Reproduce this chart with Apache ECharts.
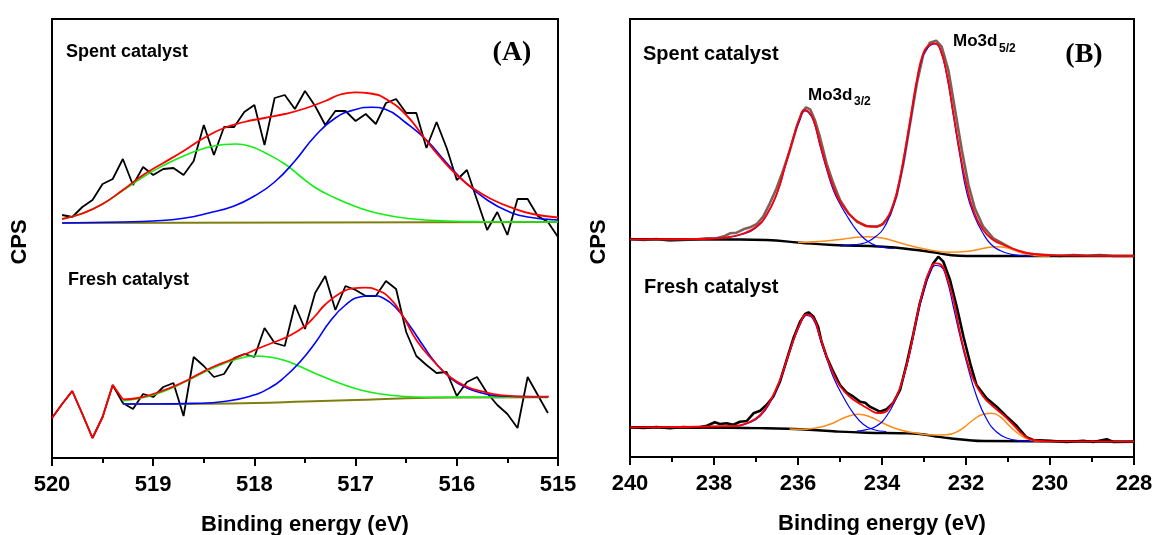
<!DOCTYPE html>
<html>
<head>
<meta charset="utf-8">
<title>XPS</title>
<script src="https://cdn.jsdelivr.net/npm/echarts@6/dist/echarts.min.js"></script>
<style>
html,body{margin:0;padding:0;background:#fff;}
#main{width:1154px;height:535px;}
</style>
</head>
<body>
<div id="main"></div>
<script>
// (A) 区域 能量
var eSpentA = [519.9,519.8,519.7,519.6,519.5,519.4,519.3,519.2,519.1,519.0,518.9,518.8,518.7,518.6,518.5,518.4,518.3,518.2,518.1,518.0,517.9,517.8,517.7,517.6,517.5,517.4,517.3,517.2,517.1,517.0,516.9,516.8,516.7,516.6,516.5,516.4,516.3,516.2,516.1,516.0,515.9,515.8,515.7,515.6,515.5,515.4,515.3,515.2,515.1,515.0];
var eFreshA = [520.0,519.9,519.8,519.7,519.6,519.5,519.4,519.3,519.2,519.1,519.0,518.9,518.8,518.7,518.6,518.5,518.4,518.3,518.2,518.1,518.0,517.9,517.8,517.7,517.6,517.5,517.4,517.3,517.2,517.1,517.0,516.9,516.8,516.7,516.6,516.5,516.4,516.3,516.2,516.1,516.0,515.9,515.8,515.7,515.6,515.5,515.4,515.3,515.2,515.1];
var spentA = [243,241,251,258,274,279,299,273,291,283,289,290,283,297,333,303,331,331,346,353,313,360,363,349,367,352,333,347,347,337,344,334,355,359,345,345,310,336,310,278,288,258,228,246,223,259,259,242,236,221];
var freshA = [40,54,67,44,20,41,73,55,49,64,61,71,75,42,101,92,81,84,100,104,101,130,115,112,153,129,165,182,148,172,168,162,162,177,169,126,102,93,85,86,62,76,81,65,53,44,30,81,63,45];

// (A) 拟合
var spentARed = [[519.9,239],[519.7,244.5],[519.5,254],[519.3,268],[519.1,283],[518.9,295],[518.7,307],[518.5,320],[518.3,330],[518.1,336],[517.9,340],[517.7,344],[517.5,349.5],[517.3,357],[517.15,363.5],[517.0,365.7],[516.85,364.5],[516.7,359],[516.5,343],[516.33,321.3],[516.17,301.3],[516.0,283],[515.84,269.7],[515.64,258],[515.44,249.7],[515.25,244],[515.0,240.5]];
var spentABlue = [[519.9,235],[519.3,236],[519.0,237],[518.7,239.7],[518.45,245],[518.2,252],[518.0,262],[517.8,276],[517.6,297],[517.4,322],[517.2,340],[517.0,348.5],[516.84,350.7],[516.7,348.5],[516.5,335],[516.3,318],[516.1,295],[515.9,274],[515.7,258],[515.5,247],[515.3,241],[515.0,238]];
var spentAGreen = [[519.9,239],[519.7,244.5],[519.5,254],[519.3,267.3],[519.1,281],[518.9,292.5],[518.7,302],[518.5,309.5],[518.3,313.5],[518.18,314],[518.05,312],[517.9,305.5],[517.7,294],[517.55,282],[517.4,270.5],[517.2,260],[517.0,251.5],[516.75,244],[516.45,239.2],[516.1,237],[515.75,236.3],[515.0,236]];
var spentABase = [[519.9,235],[515.0,236]];

var freshARed = [[519.3,58.7],[519.15,60],[519.0,64],[518.85,69.5],[518.7,76],[518.55,84],[518.4,91.5],[518.25,97.5],[518.1,103.5],[517.95,110],[517.8,116],[517.65,122.5],[517.5,132],[517.4,142],[517.3,153.5],[517.15,165],[517.03,169.7],[516.91,170.3],[516.79,168],[516.66,159.7],[516.53,141.3],[516.4,118],[516.24,98],[516.07,81.3],[515.9,71.3],[515.74,66.3],[515.58,63],[515.25,61.3],[515.09,61.3]];
var freshABlue = [[519.3,54],[519.0,54],[518.6,54.6],[518.3,56.5],[518.05,61.5],[517.85,70],[517.7,81],[517.55,96],[517.4,115],[517.25,137],[517.1,153],[516.96,161],[516.84,162.3],[516.72,159.5],[516.6,150],[516.47,133],[516.33,112],[516.2,94],[516.05,79],[515.9,70],[515.74,64.7],[515.58,62],[515.25,61.3],[515.1,61.3]];
var freshAGreen = [[519.3,57],[519.05,61.5],[518.9,66.5],[518.75,73],[518.6,80.5],[518.45,88],[518.3,94.5],[518.15,99.5],[518.0,102],[517.85,101],[517.7,97.5],[517.55,91.5],[517.35,82.5],[517.15,74.5],[516.95,68],[516.75,64],[516.55,61.8],[516.3,60.8],[515.1,60.7]];
var freshABase = [[519.3,54],[518.5,54.3],[518.0,55],[517.5,56.5],[517.0,58],[516.5,59.8],[516.0,60.5],[515.1,60.7]];

// (B) 区域
var spentB = [[240,218],[239.68,217],[239.37,218],[239.05,216.3],[238.73,217],[238.41,217.7],[238.17,218.7],[237.94,218.7],[237.74,221],[237.62,223.7],[237.46,224.3],[237.3,227.7],[237.14,229.7],[236.98,233],[236.83,240.3],[236.67,253.7],[236.51,268.7],[236.35,287],[236.19,307],[236.03,330.3],[235.91,343.7],[235.81,349.7],[235.71,347.7],[235.6,337],[235.48,320.3],[235.32,293.7],[235.16,273.7],[235.0,257],[234.8,243.7],[234.6,235.3],[234.37,231],[234.13,230.3],[233.97,233],[233.81,242],[233.65,262],[233.49,293.7],[233.33,333.7],[233.17,373.7],[233.02,402],[232.86,414.3],[232.71,416.3],[232.58,410.3],[232.42,387],[232.26,347],[232.1,307],[231.94,272],[231.79,248.7],[231.59,230.3],[231.35,218.7],[231.11,213],[230.87,207.7],[230.63,204.3],[230.4,202.7],[230.08,202],[229.76,201],[229.44,202],[229.13,201.3],[228.81,202],[228.49,201],[228.0,201]];
var spentBRed = [[240,217.7],[238.3,218],[237.7,219.7],[237.3,223.5],[237.0,230],[236.75,242],[236.5,264],[236.3,292],[236.1,321],[235.95,340],[235.85,347],[235.75,345.5],[235.63,337],[235.48,314],[235.32,290],[235.16,270],[235.0,255.5],[234.76,242],[234.52,234],[234.3,230.5],[234.13,230.5],[233.97,234],[233.8,245],[233.65,264],[233.5,295],[233.33,337],[233.17,377],[233.02,403.5],[232.87,412],[232.74,413.7],[232.62,408.7],[232.46,383.7],[232.3,343.7],[232.14,303.7],[231.98,270.3],[231.83,247.5],[231.6,227.5],[231.35,217],[231.1,212],[230.8,207],[230.5,203.7],[230.0,201.7],[228.0,201]];
var spentBBlue1 = [[238.3,218],[237.7,219.5],[237.3,223],[237.0,229.3],[236.75,241.5],[236.5,263.5],[236.3,291.5],[236.1,320.5],[235.95,338],[235.85,346],[235.75,344.5],[235.63,336],[235.48,312],[235.32,288],[235.16,267],[235.0,253],[234.84,241.5],[234.68,231],[234.52,222.5],[234.35,216],[234.15,211.5],[233.97,209.5],[233.7,208.5]];
var spentBBlue2 = [[235.0,211],[234.76,212],[234.52,213],[234.35,215],[234.15,220.5],[233.97,228],[233.8,243],[233.65,262],[233.5,292],[233.33,334],[233.17,375],[233.02,402],[232.87,411],[232.74,413],[232.62,408],[232.46,382],[232.3,341],[232.14,300],[231.98,264],[231.8,241],[231.6,224],[231.4,212.5],[231.19,206.5],[230.95,203],[230.71,201.5],[230.4,201]];
var spentBOrange = [[236.0,214.5],[235.5,215.5],[235.0,217.5],[234.6,219.8],[234.35,220.3],[234.0,219],[233.6,214.5],[233.2,210],[232.8,206.5],[232.4,204.8],[232.0,205.5],[231.6,208.5],[231.3,210.3],[231.0,209],[230.7,204.5],[230.4,201.5],[230.0,201]];
var spentBBase = [[240,217.7],[237.5,217.5],[236.75,217],[235.95,214.3],[235.16,212],[233.97,210.3],[233.17,207],[232.78,204.7],[232.38,202],[231.98,201],[228,201]];

var freshB = [[240,29.7],[239.68,29],[239.37,30],[239.05,28.7],[238.73,30],[238.41,29.3],[238.17,31.3],[237.98,34.7],[237.86,33],[237.7,33.7],[237.54,32.3],[237.38,35.3],[237.22,36],[237.06,43.7],[236.9,46.3],[236.75,52],[236.59,60.3],[236.43,75.3],[236.27,97],[236.11,118.7],[235.95,135.3],[235.83,143],[235.75,144.7],[235.63,140.3],[235.52,130.3],[235.44,115.3],[235.32,100.3],[235.16,85.3],[235.0,72],[234.84,64.3],[234.68,60.3],[234.52,55.3],[234.4,54.3],[234.29,50.3],[234.05,45.3],[233.89,47.7],[233.73,54.3],[233.57,67],[233.41,93.7],[233.25,123.7],[233.1,153.7],[232.94,177],[232.78,193.7],[232.66,200.3],[232.54,195.3],[232.38,177],[232.22,150.3],[232.06,120.3],[231.9,93.7],[231.75,72],[231.51,58.7],[231.27,50.3],[231.03,40.3],[230.79,31],[230.56,19.7],[230.4,17],[230.0,16.3],[229.6,15],[229.21,16.3],[228.97,15],[228.65,17.7],[228.49,15],[228.0,15.3]];
var freshBRed = [[240,29.7],[237.5,31],[237.14,35.3],[236.9,42],[236.67,55.3],[236.43,77],[236.19,107],[235.95,133.7],[235.79,142.7],[235.63,138.7],[235.48,121],[235.32,100.3],[235.16,83.7],[235.0,71],[234.76,60],[234.52,53],[234.29,47.3],[234.1,44],[233.95,44.5],[233.81,50],[233.65,61],[233.49,80.3],[233.33,107],[233.17,140.3],[233.02,167],[232.86,187],[232.72,193.7],[232.6,192.5],[232.46,180.3],[232.3,157],[232.14,123.7],[231.98,97],[231.83,78],[231.6,61],[231.35,50.3],[231.11,42],[230.87,32],[230.63,22],[230.4,17],[230.0,15.7],[228.0,15.3]];
var freshBBlue1 = [[237.5,30.5],[237.14,34.5],[236.9,41],[236.67,54],[236.43,76],[236.19,106],[235.95,132.5],[235.79,141.5],[235.63,137],[235.48,119],[235.32,99],[235.16,80],[234.92,60],[234.68,43.7],[234.44,32.5],[234.21,27.5],[233.9,25.5]];
var freshBBlue2 = [[234.6,26],[234.37,27.3],[234.13,31],[233.89,41],[233.65,60.3],[233.49,79],[233.33,105],[233.17,138],[233.02,164],[232.86,184],[232.72,191.5],[232.6,190.5],[232.46,178],[232.3,150],[232.14,120.3],[231.98,93.7],[231.75,61],[231.51,38],[231.27,25],[231.03,19],[230.71,16.3],[230.4,15.5]];
var freshBOrange = [[236.2,28],[235.9,27.8],[235.63,28.8],[235.4,30.5],[235.16,34],[234.84,40.3],[234.56,42.7],[234.29,40.3],[233.97,33.7],[233.6,27.5],[233.2,24],[232.8,22],[232.46,22.3],[232.14,27],[231.83,37],[231.59,42.8],[231.39,43.7],[231.19,40.3],[230.95,30.5],[230.71,22],[230.48,17.2],[230.24,15.7]];
var freshBBase = [[240,29.7],[237.6,29.3],[236.75,28.7],[235.95,27.7],[235.16,25.7],[234.37,24.3],[233.57,23.7],[233.1,23],[232.78,21],[232.38,18.7],[231.98,17],[231.59,16],[228,15.3]];

var SANS = '"Liberation Sans", Arial, sans-serif';
var SERIF = '"Liberation Serif", "Times New Roman", serif';

function zip(e, v){
	var out = [];
	for (var i = 0; i < e.length; i++) out.push([e[i], v[i]]);
	return out;
}

function line(data, color, width, g, smooth){
	return {
		type: 'line', data: data, xAxisIndex: g, yAxisIndex: g,
		symbol: 'none', smooth: smooth ? 0.5 : false,
		lineStyle: {color: color, width: width}, itemStyle: {color: color},
		emphasis: {disabled: true}, silent: true
	};
}

function xAx(g, min, max, step){
	return {
		type: 'value', gridIndex: g, min: min, max: max, interval: step, inverse: true,
		name: 'Binding energy (eV)', nameLocation: 'middle', nameGap: 56,
		nameTextStyle: {fontFamily: SANS, fontWeight: 'bold', fontSize: 22, color: '#000'},
		axisLine: {show: true, onZero: false, lineStyle: {color: '#000', width: 2}},
		axisTick: {show: true, length: 8, lineStyle: {color: '#000', width: 2}},
		minorTick: {show: true, splitNumber: 2, length: 5, lineStyle: {color: '#000', width: 2}},
		axisLabel: {fontFamily: SANS, fontWeight: 'bold', fontSize: 22, color: '#000', margin: 16},
		splitLine: {show: false}, minorSplitLine: {show: false}
	};
}

function txt(x, y, s, size, opt){
	opt = opt || {};
	return {
		type: 'text', x: x, y: y, rotation: opt.rot || 0, silent: true,
		style: {text: s, fill: '#000', font: 'bold ' + size + 'px ' + (opt.font || SANS),
			textAlign: opt.align || 'left', textVerticalAlign: 'middle'}
	};
}

var freshAOverlay = zip(eFreshA.slice(0, 7), freshA.slice(0, 7)).concat([freshARed[0]]);

var chart = echarts.init(document.getElementById('main'));
var option = {
	animation: false,
	backgroundColor: '#fff',
	grid: [
		{left: 52, top: 19, width: 506, height: 439, show: true, borderColor: '#000', borderWidth: 2, outerBoundsMode: 'none'},
		{left: 630, top: 19, width: 504, height: 438, show: true, borderColor: '#000', borderWidth: 2, outerBoundsMode: 'none'}
	],
	xAxis: [xAx(0, 515, 520, 1), xAx(1, 228, 240, 2)],
	yAxis: [
		{type: 'value', gridIndex: 0, min: 0, max: 439, show: false},
		{type: 'value', gridIndex: 1, min: 0, max: 438, show: false}
	],
	series: [
		line(zip(eSpentA, spentA), '#000', 1.8, 0, false),
		line(zip(eFreshA, freshA), '#000', 1.8, 0, false),
		line(spentABase, '#7f7f10', 2, 0, true),
		line(freshABase, '#7f7f10', 2, 0, true),
		line(spentAGreen, '#11ee11', 1.6, 0, true),
		line(freshAGreen, '#11ee11', 1.6, 0, true),
		line(spentABlue, '#0000ff', 1.6, 0, true),
		line(freshABlue, '#0000ff', 1.6, 0, true),
		line(spentARed, '#ff0000', 1.8, 0, true),
		line(freshARed, '#ff0000', 1.8, 0, true),
		line(freshAOverlay, '#ff0000', 1.8, 0, false),

		line(spentB, '#7d5f5c', 2.6, 1, false),
		line(freshB, '#000', 2.6, 1, false),
		line(spentBBase, '#000', 2.4, 1, true),
		line(freshBBase, '#000', 2.4, 1, true),
		line(spentBOrange, '#ff8c1a', 1.5, 1, true),
		line(freshBOrange, '#ff8c1a', 1.5, 1, true),
		line(spentBBlue1, '#0000ff', 1.2, 1, true),
		line(spentBBlue2, '#0000ff', 1.2, 1, true),
		line(freshBBlue1, '#0000ff', 1.2, 1, true),
		line(freshBBlue2, '#0000ff', 1.2, 1, true),
		line(spentBRed, '#ff0000', 1.8, 1, true),
		line(freshBRed, '#ff0000', 1.8, 1, true)
	],
	graphic: [
		txt(66, 52, 'Spent catalyst', 18),
		txt(68, 280, 'Fresh catalyst', 18),
		txt(512, 53, '(A)', 28, {font: SERIF, align: 'center'}),
		txt(643, 54, 'Spent catalyst', 20),
		txt(644, 287, 'Fresh catalyst', 20),
		txt(1084, 55, '(B)', 28, {font: SERIF, align: 'center'}),
		txt(808, 95, 'Mo3d', 17),
		txt(854, 102, '3/2', 12),
		txt(953, 41.5, 'Mo3d', 17),
		txt(999, 49, '5/2', 12),
		txt(20, 242, 'CPS', 22, {align: 'center', rot: Math.PI / 2}),
		txt(599, 242, 'CPS', 22, {align: 'center', rot: Math.PI / 2})
	]
};
chart.setOption(option);
</script>
</body>
</html>
